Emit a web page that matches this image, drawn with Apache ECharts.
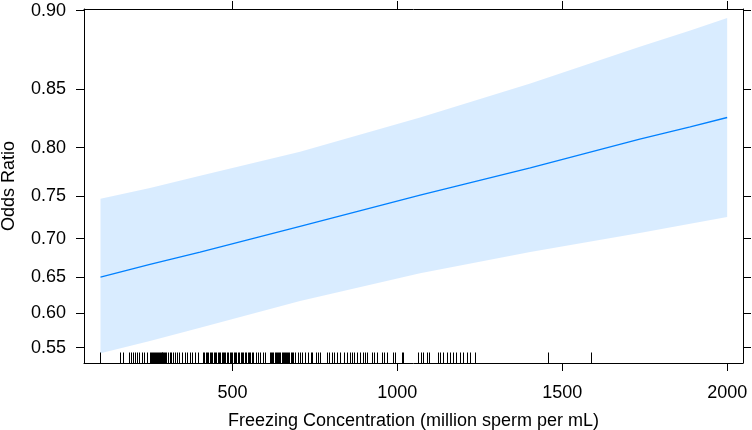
<!DOCTYPE html>
<html>
<head>
<meta charset="utf-8">
<script src="https://cdn.jsdelivr.net/npm/echarts@6/dist/echarts.min.js"></script>
<style>
  html, body { margin: 0; padding: 0; background: #fff; }
  #chart { width: 752px; height: 430px; }
</style>
</head>
<body>
<div id="chart"></div>
<script>
// effect of freezing concentration
const concentration = [100, 250, 402, 705, 1069, 1403, 1735, 1888, 2000]
const oddsRatio = [0.650, 0.667, 0.683, 0.715, 0.751, 0.780, 0.808, 0.819, 0.827]
const lowerCI = [0.542, 0.560, 0.579, 0.617, 0.655, 0.683, 0.707, 0.718, 0.726]
const upperCI = [0.747, 0.759, 0.772, 0.796, 0.827, 0.854, 0.879, 0.889, 0.896]

// rug of observed concentrations
const rugValues = [
  100, 160, 168, 185, 192, 200, 205, 212, 218, 225, 232, 240,
  249, 252, 255, 258, 261, 264, 267, 270, 273, 276, 279, 282, 285, 288,
  291, 294, 297, 300,
  305, 310, 315, 320, 326, 332, 338, 348, 355, 362, 370, 378, 388, 395,
  411, 415, 419, 423, 427, 431, 435, 439, 443, 447, 451, 455, 459, 463,
  467, 471, 475, 479, 483,
  488, 492, 496, 500, 504, 508, 512, 516, 521, 525, 529, 533, 537, 541,
  546, 550, 554, 558, 562,
  570, 578, 585, 592, 600,
  614, 617, 621, 624, 628, 631, 635, 638, 642, 645, 649, 652, 656, 659,
  663, 666, 670, 673, 677, 680, 683,
  690, 698, 705, 712, 720, 728, 738, 742, 752, 758, 765,
  786, 794, 801, 808, 816, 826, 837, 847, 855, 862, 869, 877, 887, 895,
  902, 909, 922, 929, 938, 953, 960, 970, 986, 993, 1013, 1016,
  1064, 1071, 1079, 1089, 1097, 1124, 1129, 1139, 1150, 1160, 1170, 1178,
  1190, 1200, 1210, 1220, 1235, 1458, 1587
]

const yTickLabels = [0.55, 0.60, 0.65, 0.70, 0.75, 0.80, 0.85, 0.90]
const xTickLabels = [500, 1000, 1500, 2000]

const logit = p => Math.log(p / (1 - p))
const invLogit = v => 1 / (1 + Math.exp(-v))

const X_MIN = 50
const X_MAX = 2048
const Y_MIN = 0.1101
const Y_MAX = 2.2073
const FONT = 'Liberation Sans, Arial, sans-serif'

const chart = echarts.init(document.getElementById('chart'))

const frameLine = { show: true, lineStyle: { color: '#000', width: 1 } }

function xAxisDef(position, withLabels) {
  return {
    type: 'value',
    position: position,
    min: X_MIN,
    max: X_MAX,
    axisLine: frameLine,
    splitLine: { show: false },
    axisTick: {
      show: true,
      length: 8,
      customValues: xTickLabels,
      lineStyle: { color: '#000', width: 1 }
    },
    axisLabel: {
      show: withLabels,
      customValues: xTickLabels,
      formatter: v => String(Math.round(v)),
      margin: 21,
      color: '#000',
      fontSize: 18,
      fontFamily: FONT
    }
  }
}

function yAxisDef(position, withLabels) {
  return {
    type: 'value',
    position: position,
    min: Y_MIN,
    max: Y_MAX,
    axisLine: frameLine,
    splitLine: { show: false },
    axisTick: {
      show: true,
      length: 8,
      customValues: yTickLabels.map(logit),
      lineStyle: { color: '#000', width: 1 }
    },
    axisLabel: {
      show: withLabels,
      customValues: yTickLabels.map(logit),
      formatter: v => invLogit(v).toFixed(2),
      margin: 18,
      color: '#000',
      fontSize: 18,
      fontFamily: FONT
    }
  }
}

const bottomX = xAxisDef('bottom', true)
bottomX.name = 'Freezing Concentration (million sperm per mL)'
bottomX.nameLocation = 'middle'
bottomX.nameGap = 49
bottomX.nameTextStyle = { color: '#000', fontSize: 18, fontFamily: FONT }

const leftY = yAxisDef('left', true)
leftY.name = 'Odds Ratio'
leftY.nameLocation = 'middle'
leftY.nameGap = 66
leftY.nameTextStyle = { color: '#000', fontSize: 18, fontFamily: FONT }

// confidence band drawn as one polygon through the axis scales
function renderBand(params, api) {
  if (params.dataIndex !== 0) return null
  const pts = []
  for (let i = 0; i < concentration.length; i++) {
    pts.push(api.coord([concentration[i], logit(upperCI[i])]))
  }
  for (let i = concentration.length - 1; i >= 0; i--) {
    pts.push(api.coord([concentration[i], logit(lowerCI[i])]))
  }
  return {
    type: 'polygon',
    shape: { points: pts },
    style: { fill: 'rgba(0, 128, 255, 0.15)' }
  }
}

const option = {
  backgroundColor: '#fff',
  animation: false,
  grid: { left: 84, right: 9, top: 9, bottom: 67, outerBoundsMode: 'none', containLabel: false },
  xAxis: [bottomX, xAxisDef('top', false)],
  yAxis: [leftY, yAxisDef('right', false)],
  series: [
    {
      name: 'band',
      type: 'custom',
      renderItem: renderBand,
      data: concentration.map((c, i) => [c, logit(lowerCI[i]), logit(upperCI[i])])
    },
    {
      name: 'fit',
      type: 'line',
      symbol: 'none',
      lineStyle: { color: '#0080ff', width: 1.3 },
      data: concentration.map((c, i) => [c, logit(oddsRatio[i])])
    },
    {
      name: 'rug',
      type: 'custom',
      renderItem: (params, api) => {
        const base = api.coord([api.value(0), Y_MIN])
        const x = Math.round(base[0]) + 0.5
        return {
          type: 'line',
          shape: { x1: x, y1: base[1], x2: x, y2: base[1] - 10.5 },
          style: { stroke: '#000', lineWidth: 1 }
        }
      },
      data: rugValues.map(v => [v])
    }
  ]
}

chart.setOption(option)
</script>
</body>
</html>
